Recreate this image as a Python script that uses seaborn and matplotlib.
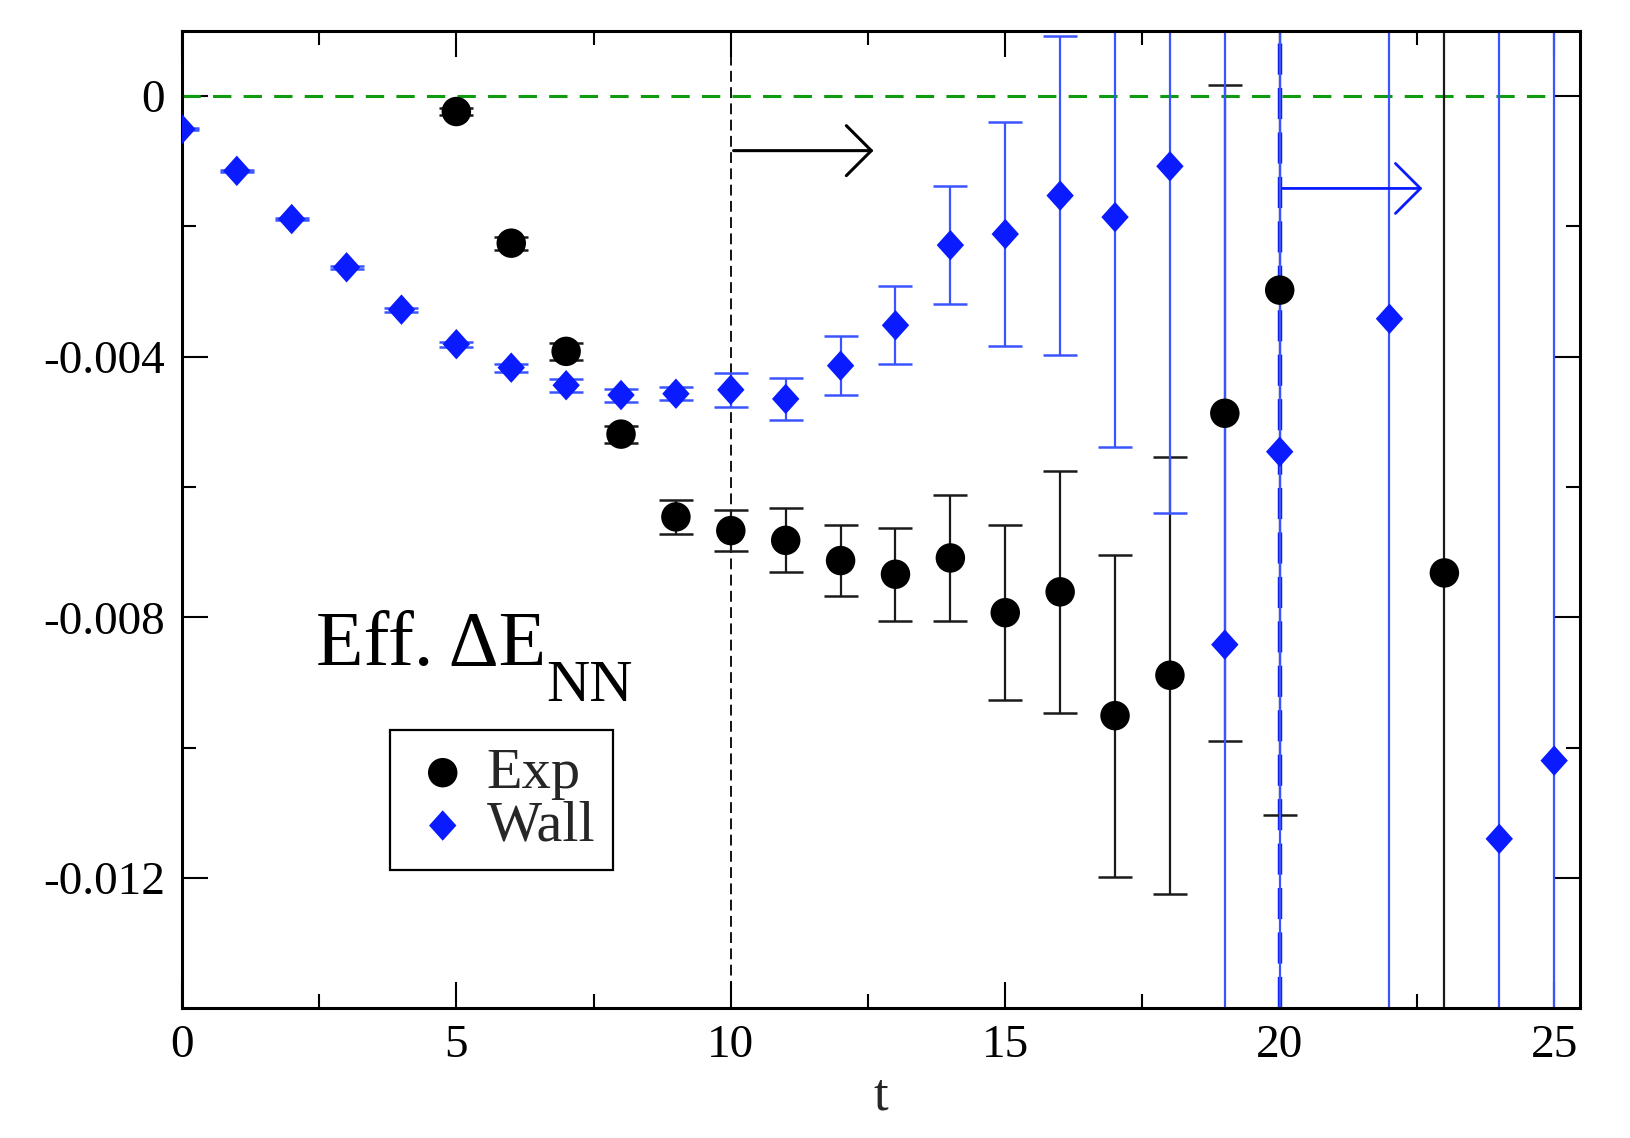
import numpy as np
import pandas as pd
import matplotlib
matplotlib.use("Agg")
import matplotlib.pyplot as plt
import seaborn as sns

# ---- data ----
t_exp = [5, 6, 7, 8, 9, 10, 11, 12, 13, 14, 15, 16, 17, 18, 19, 20, 23]
exp_val = [-0.00024, -0.00226, -0.00392, -0.00519, -0.00646, -0.00667, -0.00682,
           -0.00713, -0.00734, -0.00709, -0.00793, -0.00761, -0.00951, -0.00889,
           -0.00487, -0.00298, -0.00732]
exp_err = [0.00005, 0.00010, 0.00013, 0.00013, 0.00026, 0.00032, 0.00049,
           0.00054, 0.00071, 0.00096, 0.00134, 0.00186, 0.00247, 0.00335,
           0.00503, 0.00806, 0.01200]

t_wall = [0, 1, 2, 3, 4, 5, 6, 7, 8, 9, 10, 11, 12, 13, 14, 15, 16, 17, 18,
          19, 20, 22, 24, 25]
wall_val = [-0.00051, -0.00115, -0.00189, -0.00263, -0.00328, -0.00381, -0.00417,
            -0.00444, -0.00459, -0.00457, -0.00451, -0.00465, -0.00414, -0.00352,
            -0.00229, -0.00212, -0.00153, -0.00186, -0.00108, -0.00842, -0.00546,
            -0.00342, -0.01140, -0.01020]
wall_err = [0.00002, 0.00002, 0.00002, 0.00002, 0.00003, 0.00004, 0.00006,
            0.00010, 0.00010, 0.00010, 0.00026, 0.00032, 0.00045, 0.00060,
            0.00090, 0.00172, 0.00245, 0.00352, 0.00532, 0.01050, 0.01000,
            0.01200, 0.01400, 0.01400]

x_ticks = [0, 5, 10, 15, 20, 25]
x_ticklabels = ["0", "5", "10", "15", "20", "25"]
y_ticks = [0, -0.004, -0.008, -0.012]
y_ticklabels = ["0", "-0.004", "-0.008", "-0.012"]

sns.set_theme(style="ticks")
plt.rcParams["font.family"] = ["Liberation Serif", "DejaVu Serif"]
plt.rcParams["axes.unicode_minus"] = False

fig = plt.figure(figsize=(16.3, 11.38), dpi=100)
ax = fig.add_axes([0.1116, 0.114, 0.8577, 0.859])

blue = "#0a1cff"
bar_blue = "#3a55ff"

# error bars
ax.errorbar(t_exp, exp_val, yerr=exp_err, fmt="none", ecolor="#1a1a1a",
            elinewidth=1.6, capsize=12, capthick=1.8, zorder=2)
ax.errorbar(t_wall, wall_val, yerr=wall_err, fmt="none", ecolor=bar_blue,
            elinewidth=1.6, capsize=12, capthick=1.8, zorder=2)

diamond = [(0, 1), (0.9, 0), (0, -1), (-0.9, 0), (0, 1)]
df_exp = pd.DataFrame({"t": t_exp, "v": exp_val})
df_wall = pd.DataFrame({"t": t_wall, "v": wall_val})
sns.scatterplot(data=df_exp, x="t", y="v", marker="o", color="black", s=450,
                edgecolor="none", label="Exp", ax=ax, zorder=4)
sns.scatterplot(data=df_wall, x="t", y="v", marker=diamond, color=blue, s=480,
                edgecolor="none", label="Wall", ax=ax, zorder=4)

# reference lines
ax.plot([0, 25], [0, 0], color="#109a10", lw=2.2, ls=(0, (6, 4)), zorder=1)
ax.axvline(10, color="black", lw=1.3, ls=(0, (6, 3)), zorder=1)
ax.axvline(20, color=blue, lw=3.2, ls=(0, (7, 3)), zorder=1)

# arrows
ax.annotate("", xy=(12.65, -0.00084), xytext=(10, -0.00084),
            arrowprops=dict(arrowstyle="->,head_length=0.9,head_width=0.9",
                            mutation_scale=20, color="black", lw=2.2))
ax.annotate("", xy=(22.65, -0.00142), xytext=(20, -0.00142),
            arrowprops=dict(arrowstyle="->,head_length=0.9,head_width=0.9",
                            mutation_scale=20, color=blue, lw=2.0))

lab = ax.text(2.45, -0.00873, "Eff. \u0394E", fontsize=56,
              color="black", ha="left", va="baseline")
ax.annotate("NN", xy=(1.0, 0.0), xycoords=lab, xytext=(0, -14),
            textcoords="offset points", fontsize=43, color="black",
            ha="left", va="baseline")

ax.set_xlim(0, 25.47)
ax.set_ylim(-0.014, 0.001)
ax.set_xticks(x_ticks)
ax.set_xticklabels(x_ticklabels)
ax.set_yticks(y_ticks)
ax.set_yticklabels(y_ticklabels)
ax.set_xticks([2.5, 7.5, 12.5, 17.5, 22.5], minor=True)
ax.set_yticks([-0.002, -0.006, -0.010], minor=True)
ax.tick_params(which="both", direction="in", top=True, right=True,
               labelsize=34, colors="black", width=1.5, pad=12)
ax.tick_params(which="major", length=19)
ax.tick_params(which="minor", length=10)
for sp in ax.spines.values():
    sp.set_linewidth(2.2)
    sp.set_color("black")
ax.set_xlabel("t", fontsize=38, labelpad=4)
ax.set_ylabel("")

leg = ax.legend(loc="upper left", bbox_to_anchor=(0.149, 0.285),
                borderaxespad=0, fontsize=42, frameon=True, fancybox=False,
                handletextpad=0.15, borderpad=0.3, labelspacing=0.0,
                handlelength=1.2)
leg.get_frame().set_edgecolor("black")
leg.get_frame().set_linewidth(1.6)
leg.get_frame().set_alpha(1)

fig.savefig("out.png", dpi=100)
